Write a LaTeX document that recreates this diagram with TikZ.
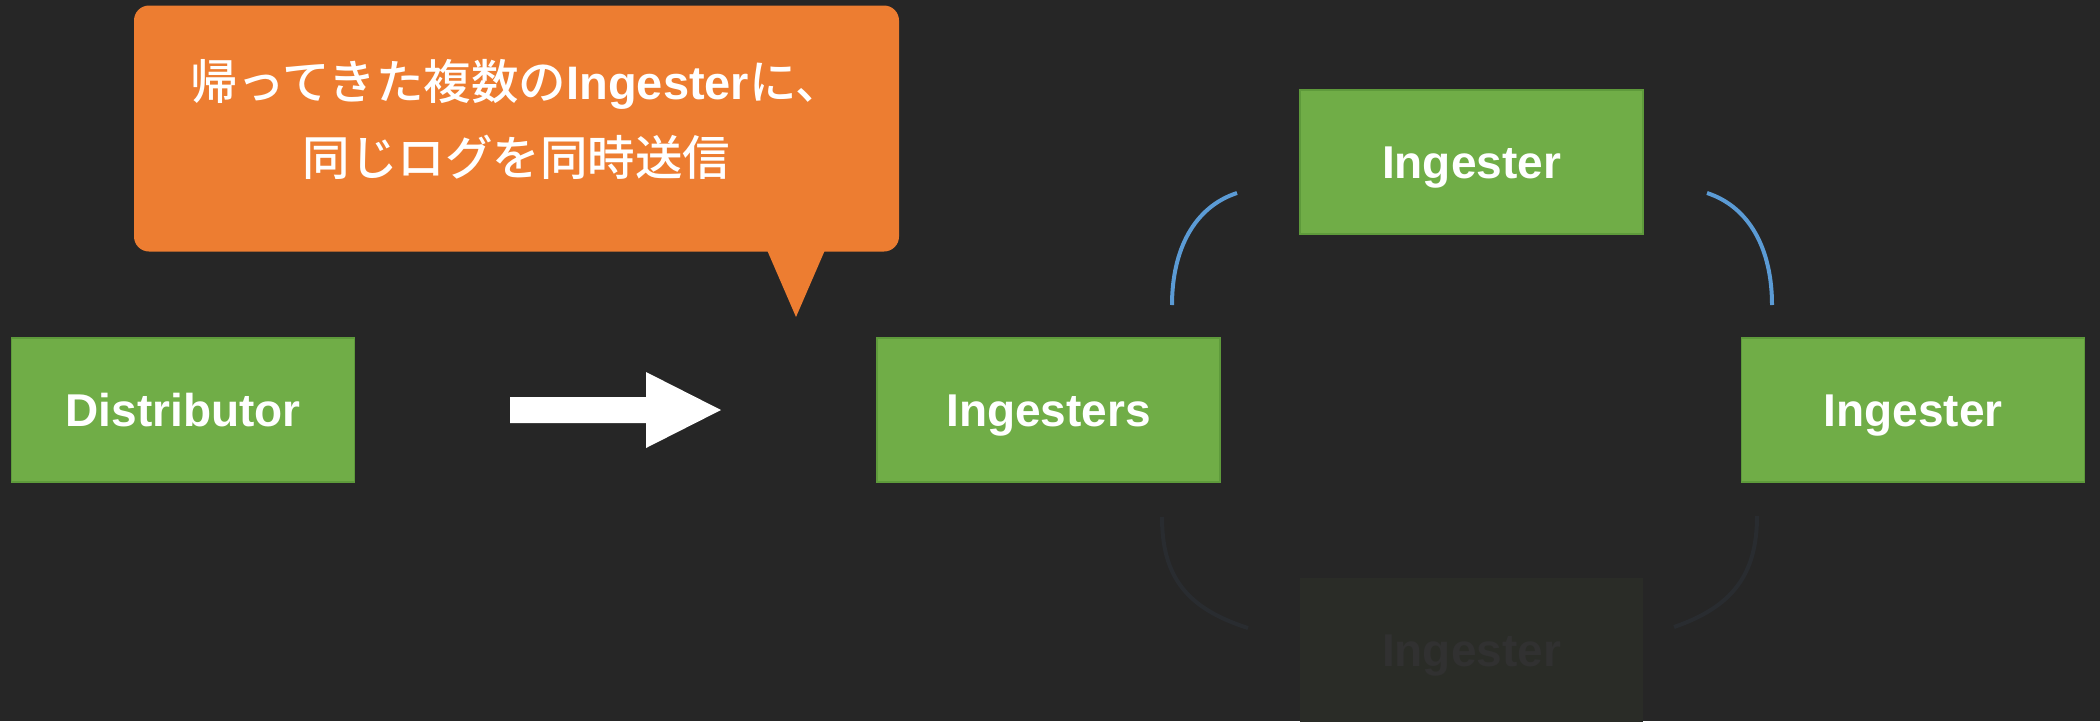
\documentclass[tikz,border=0pt]{standalone}
\usepackage{fontspec}
\setmainfont{Liberation Sans}
\newfontfamily\cjk{Noto Sans CJK JP}[UprightFont=* Medium]

\definecolor{bg}{HTML}{262626}
\definecolor{boxgreen}{HTML}{70AD47}
\definecolor{boxedge}{HTML}{5E9A3B}
\definecolor{callorange}{HTML}{ED7D31}
\definecolor{arcblue}{HTML}{5B9BD5}
\definecolor{fadefill}{HTML}{2A2C27}
\definecolor{fadetext}{HTML}{313131}
\definecolor{fadearc}{HTML}{292C30}

\tikzset{
  unit/.style={rectangle, fill=boxgreen, draw=boxedge, line width=1.2pt,
    minimum width=343pt, minimum height=144pt, inner sep=0pt, text=white,
    font=\bfseries\fontsize{46}{54}\selectfont, text height=33.5pt, text depth=0pt},
  faded/.style={unit, fill=fadefill, draw=none, text=fadetext},
  balloon/.style={rectangle, fill=callorange, rounded corners=15pt,
    minimum width=765pt, minimum height=246pt, inner sep=0pt},
  balloontext/.style={anchor=base, text=white, inner sep=0pt},
  link/.style={arcblue, line width=4pt},
  fadelink/.style={fadearc, line width=4pt},
}

\newcommand{\jp}[1]{{\cjk\fontsize{47.5}{56}\selectfont #1}}
\newcommand{\en}[1]{{\bfseries\fontsize{47}{56}\selectfont #1}}

\begin{document}
\begin{tikzpicture}[x=1pt,y=-1pt]
  % canvas
  \fill[bg] (0,0) rectangle (2100,721);
  \useasboundingbox (0,0) rectangle (2100,721);

  % speech balloon
  \node[balloon] (note) at (516.5,128.5) {};
  \coordinate (tip) at (796,317);
  \fill[callorange] (767,250) -- (825,250) -- (tip) -- cycle;
  \node[balloontext] (line1) at (516.5,99)
    {\jp{帰ってきた複数の}\en{Ingester}\jp{に、}};
  \node[balloontext] (line2) at (516.5,175) {\jp{同じログを同時送信}};

  % components
  \node[unit] (dist) at (183,410) {Distributor};
  \node[unit] (ings) at (1048.5,410) {Ingesters};
  \node[unit] (ingtop) at (1471.5,162) {Ingester};
  \node[unit] (ingright) at (1913,410) {Ingester};
  \node[faded] (ingbottom) at (1471.5,649.5) {Ingester};

  % big arrow
  \coordinate (arrtail) at (510,410);
  \coordinate (arrtip) at (721,410);
  \fill[white] (510,397) -- (646,397) -- (646,372) -- (arrtip)
    -- (646,448) -- (646,423) -- (510,423) -- cycle;

  % ring arcs (upper, highlighted)
  \coordinate (a1s) at (1237,193);
  \coordinate (a1e) at (1172,305);
  \draw[link] (a1s) .. controls (1194,207) and (1172,250) .. (a1e);
  \coordinate (a2s) at (1707,193);
  \coordinate (a2e) at (1772,305);
  \draw[link] (a2s) .. controls (1750,207) and (1772,250) .. (a2e);

  % ring arcs (lower, faded)
  \coordinate (a3s) at (1162,517);
  \coordinate (a3e) at (1248,628);
  \draw[fadelink] (a3s) .. controls (1162,575) and (1185,608) .. (a3e);
  \coordinate (a4s) at (1757,516);
  \coordinate (a4e) at (1674,627);
  \draw[fadelink] (a4s) .. controls (1757,575) and (1732,607) .. (a4e);
\end{tikzpicture}
\end{document}
